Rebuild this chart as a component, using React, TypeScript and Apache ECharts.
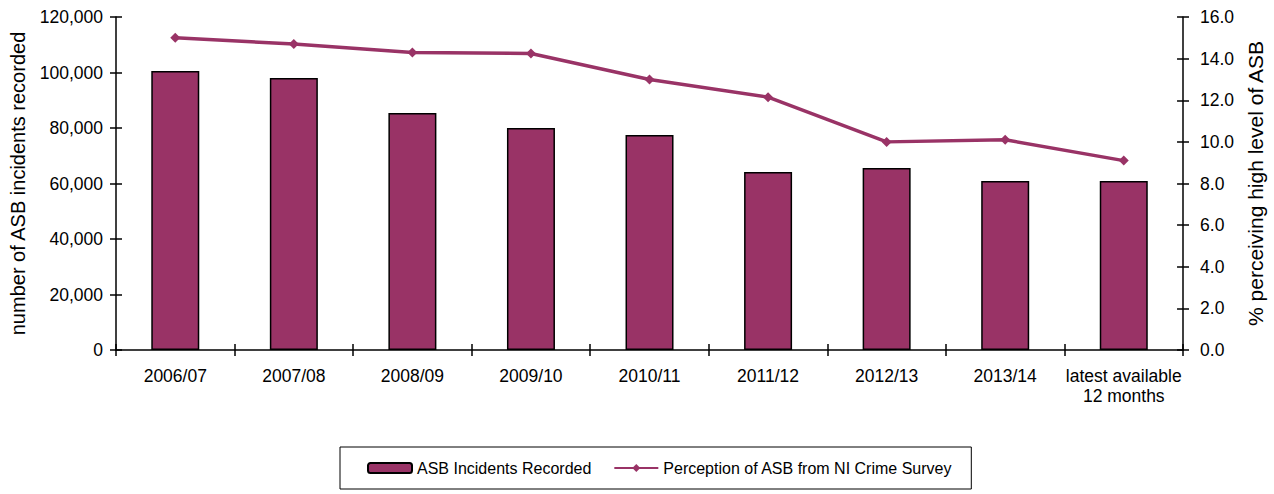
import React, { useEffect, useRef } from "react";
import * as echarts from "echarts";

const categories = [
  "2006/07",
  "2007/08",
  "2008/09",
  "2009/10",
  "2010/11",
  "2011/12",
  "2012/13",
  "2013/14",
  "latest available\n12 months",
];
const incidents = [100500, 98000, 85400, 80000, 77500, 64100, 65600, 60900, 60900];
const perception = [15.0, 14.7, 14.3, 14.25, 13.0, 12.15, 10.0, 10.1, 9.1];
const barName = "ASB Incidents Recorded";
const lineName = "Perception of ASB from NI Crime Survey";
const leftTitle = "number of ASB incidents recorded";
const rightTitle = "% perceiving high level of ASB";

const COLOR = "#993366";
const FONT = "Liberation Sans, Arial, sans-serif";

export default function App() {
  const ref = useRef<HTMLDivElement>(null);
  useEffect(() => {
    if (!ref.current) return;
    const chart = echarts.init(ref.current, null, { renderer: "svg" });
    const axisLine = { show: true, lineStyle: { color: "#000", width: 1.5 } };
    const tickOut = { show: true, length: 6, lineStyle: { color: "#000", width: 1.5 } };
    const tickIn = { show: true, inside: true, length: 6, lineStyle: { color: "#000", width: 1.5 } };
    chart.setOption({
      animation: false,
      textStyle: { fontFamily: FONT, color: "#000" },
      grid: { left: 116, right: 80, top: 17, bottom: 144, containLabel: false },
      legend: {
        left: 340,
        top: 447,
        padding: [13, 19, 13, 27],
        itemGap: 22,
        itemWidth: 44,
        itemHeight: 10,
        borderColor: "#000",
        borderWidth: 1,
        textStyle: { fontSize: 16, color: "#000", fontFamily: FONT },
        data: [barName, lineName],
      },
      xAxis: [
        {
          type: "category",
          data: categories,
          axisLine,
          axisTick: tickOut,
          axisLabel: { fontSize: 17.5, color: "#000", margin: 16, lineHeight: 20, interval: 0 },
          splitLine: { show: false },
        },
        {
          type: "category",
          data: categories,
          position: "bottom",
          axisLine: { show: false },
          axisTick: tickIn,
          axisLabel: { show: false },
          splitLine: { show: false },
        },
      ],
      yAxis: [
        {
          type: "value",
          position: "left",
          min: 0,
          max: 120000,
          interval: 20000,
          axisLine,
          axisTick: tickOut,
          splitLine: { show: false },
          axisLabel: {
            fontSize: 17.5,
            color: "#000",
            margin: 13,
            formatter: (v: number) => v.toString().replace(/\B(?=(\d{3})+(?!\d))/g, ","),
          },
          name: leftTitle,
          nameLocation: "middle",
          nameGap: 88,
          nameRotate: 90,
          nameTextStyle: { fontSize: 20, color: "#000" },
        },
        {
          type: "value",
          position: "right",
          min: 0,
          max: 16,
          interval: 2,
          axisLine,
          axisTick: tickOut,
          splitLine: { show: false },
          axisLabel: {
            fontSize: 17.5,
            color: "#000",
            margin: 17,
            formatter: (v: number) => v.toFixed(1),
          },
          name: rightTitle,
          nameLocation: "middle",
          nameGap: 53,
          nameRotate: 90,
          nameTextStyle: { fontSize: 21, color: "#000" },
        },
        {
          type: "value",
          position: "left",
          min: 0,
          max: 120000,
          interval: 20000,
          axisLine: { show: false },
          axisTick: tickIn,
          axisLabel: { show: false },
          splitLine: { show: false },
        },
        {
          type: "value",
          position: "right",
          min: 0,
          max: 16,
          interval: 2,
          axisLine: { show: false },
          axisTick: tickIn,
          axisLabel: { show: false },
          splitLine: { show: false },
        },
      ],
      series: [
        {
          name: barName,
          type: "bar",
          data: incidents,
          yAxisIndex: 0,
          barWidth: 48,
          itemStyle: { color: COLOR, borderColor: "#000", borderWidth: 1.5 },
        },
        {
          name: lineName,
          type: "line",
          data: perception,
          yAxisIndex: 1,
          symbol: "diamond",
          symbolSize: 10,
          lineStyle: { color: COLOR, width: 3.5 },
          itemStyle: { color: COLOR },
        },
      ],
    });
    return () => chart.dispose();
  }, []);
  return (
    <div
      ref={ref}
      style={{ position: "fixed", left: 0, top: 0, width: 1274, height: 494, background: "#fff" }}
    />
  );
}
